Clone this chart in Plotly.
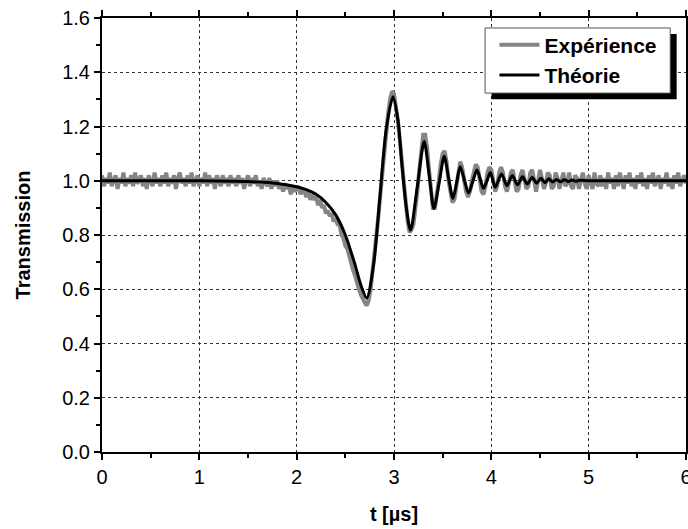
import numpy as np
import plotly.graph_objects as go

exp_step = 0.02
exp_y = [
    1.02, 0.98, 1.01, 0.99, 1.03, 0.98, 1.00, 1.02, 0.97, 1.01,
    0.99, 1.03, 0.98, 1.01, 0.99, 1.02, 0.98, 1.03, 0.99, 1.00,
    1.02, 0.98, 1.01, 0.97, 1.02, 1.00, 0.98, 1.03, 0.99, 1.01,
    0.98, 1.02, 0.99, 1.03, 0.98, 1.01, 0.99, 1.02, 0.97, 1.01,
    1.03, 0.99, 1.01, 0.98, 1.02, 0.99, 1.03, 0.98, 1.00, 1.02,
    0.98, 1.01, 0.99, 1.03, 0.98, 1.02, 0.99, 1.01, 0.97, 1.02,
    1.00, 0.98, 1.02, 0.99, 1.01, 0.98, 1.02, 0.99, 1.01, 0.98,
    1.02, 0.99, 1.01, 0.97, 1.00, 1.02, 0.98, 1.01, 0.99, 1.02,
    0.98, 1.00, 0.97, 1.01, 0.99, 0.98, 1.01, 0.97, 1.00, 0.98,
    1.00, 0.97, 0.99, 0.96, 0.99, 0.97, 0.98, 0.95, 0.98, 0.96,
    0.97, 0.98, 0.95, 0.97, 0.96, 0.94, 0.96, 0.93, 0.95, 0.93,
    0.94, 0.91, 0.93, 0.90, 0.91, 0.88, 0.89, 0.87, 0.88, 0.85,
    0.86, 0.84, 0.84, 0.80, 0.79, 0.76, 0.75, 0.72, 0.70, 0.67,
    0.65, 0.62, 0.60, 0.58, 0.56, 0.55, 0.54, 0.56, 0.60, 0.66,
    0.73, 0.80, 0.87, 0.95, 1.03, 1.10, 1.18, 1.25, 1.30, 1.33,
    1.32, 1.28, 1.22, 1.15, 1.07, 0.98, 0.91, 0.85, 0.81, 0.82,
    0.84, 0.89, 0.96, 1.04, 1.11, 1.17, 1.17, 1.12, 1.04, 0.97,
    0.90, 0.90, 0.94, 1.00, 1.06, 1.10, 1.11, 1.07, 1.00, 0.95,
    0.92, 0.93, 0.98, 1.04, 1.07, 1.05, 1.00, 0.96, 0.94, 0.96,
    1.00, 1.04, 1.06, 1.05, 1.00, 0.96, 0.95, 0.98, 1.03, 1.05,
    1.04, 0.99, 0.96, 0.98, 1.03, 1.05, 1.03, 0.98, 0.96, 0.99,
    1.03, 1.04, 1.00, 0.96, 0.97, 1.02, 1.04, 1.01, 0.97, 0.98,
    1.03, 1.04, 0.99, 0.96, 1.00, 1.04, 1.01, 0.97, 0.99, 1.03,
    1.02, 0.97, 0.98, 1.03, 1.01, 0.97, 1.00, 1.03, 0.98, 0.99,
    1.03, 0.98, 0.97, 1.02, 1.01, 0.97, 1.00, 1.03, 0.99, 0.97,
    1.02, 1.00, 0.97, 1.03, 0.99, 0.98, 1.02, 0.98, 1.01, 0.97,
    1.03, 0.99, 1.01, 0.97, 1.02, 0.98, 1.03, 1.00, 0.97, 1.02,
    0.99, 1.03, 0.98, 1.01, 0.97, 1.02, 0.99, 1.03, 0.98, 1.01,
    0.97, 1.02, 0.99, 1.03, 0.98, 1.00, 1.02, 0.97, 1.01, 0.99,
    1.03, 0.98, 1.01, 0.97, 1.02, 0.99, 1.03, 0.98, 1.00, 1.02,
    0.99,
]
exp_t = [round(i * exp_step, 2) for i in range(len(exp_y))]

# Theory curve (points read at extrema and crossings)
th_t = [0.0, 0.5, 1.0, 1.5, 1.8, 2.0, 2.1, 2.2, 2.3, 2.4, 2.5, 2.6, 2.66, 2.72,
        2.79, 2.855, 2.92, 2.99, 3.04, 3.08, 3.125, 3.17, 3.24, 3.31, 3.36, 3.41,
        3.465, 3.516, 3.56, 3.606, 3.643, 3.68, 3.723, 3.766, 3.81, 3.852, 3.886,
        3.92, 3.955, 3.99, 4.04, 4.105, 4.16, 4.215, 4.27, 4.32, 4.37, 4.42, 4.465,
        4.51, 4.55, 4.59, 4.63, 4.67, 4.71, 4.75, 4.79, 4.83, 4.87, 4.91, 5.0, 5.5, 6.0]
th_y = [1.0, 1.0, 1.0, 0.997, 0.99, 0.978, 0.967, 0.95, 0.92, 0.875, 0.80, 0.69, 0.615, 0.568,
        0.69, 0.94, 1.19, 1.31, 1.225, 1.065, 0.905, 0.818, 0.98, 1.145, 1.025, 0.898,
        0.995, 1.09, 1.012, 0.935, 0.993, 1.052, 1.003, 0.955, 0.998, 1.04, 1.006,
        0.972, 1.0, 1.03, 0.976, 1.025, 0.982, 1.019, 0.985, 1.015, 0.988, 1.012, 0.991,
        1.009, 0.993, 1.007, 0.995, 1.005, 0.996, 1.004, 0.997, 1.003, 0.998, 1.002, 1.0, 1.0, 1.0]

x_ticks = [0, 1, 2, 3, 4, 5, 6]
y_ticks = [0.0, 0.2, 0.4, 0.6, 0.8, 1.0, 1.2, 1.4, 1.6]
y_tick_text = ["0.0", "0.2", "0.4", "0.6", "0.8", "1.0", "1.2", "1.4", "1.6"]

font_family = "Liberation Sans, Arial, sans-serif"

fig = go.Figure()
fig.add_trace(go.Scatter(x=exp_t, y=exp_y, mode="lines", name="<b>Expérience</b>",
                         legendgroup="a",
                         line=dict(color="#858585", width=4)))
fig.add_trace(go.Scatter(x=th_t, y=th_y, mode="lines", name="<b>Théorie</b>",
                         legendgroup="b",
                         line=dict(color="black", width=3, shape="spline", smoothing=0.8)))

axis_common = dict(
    showline=True, linecolor="black", linewidth=2, mirror="allticks",
    ticks="outside", ticklen=6, tickwidth=1.5, tickcolor="black",
    showgrid=True, gridcolor="#333333", griddash="dot", gridwidth=1,
    zeroline=False, automargin=False, ticklabeloverflow="allow",
    tickfont=dict(family=font_family, size=20, color="black"),
)

fig.update_xaxes(range=[0, 6], tickvals=x_ticks,
                 minor=dict(dtick=0.5, ticks="outside", ticklen=4, tickcolor="black", showgrid=False),
                 title=dict(text="<b>t [µs]</b>", font=dict(family=font_family, size=20, color="black"),
                            standoff=20),
                 **axis_common)
fig.update_yaxes(range=[0, 1.6], tickvals=y_ticks, ticktext=y_tick_text,
                 minor=dict(dtick=0.1, ticks="outside", ticklen=4, tickcolor="black", showgrid=False),
                 title=dict(text="<b>Transmission</b>", font=dict(family=font_family, size=20, color="black"),
                            standoff=26),
                 **axis_common)

# Legend box with drop shadow
fig.add_shape(type="rect", xref="paper", yref="paper", x0=0.667, x1=0.984, y0=0.813, y1=0.963,
              fillcolor="black", line=dict(width=0), layer="above")
fig.add_shape(type="rect", xref="paper", yref="paper", x0=0.656, x1=0.973, y0=0.827, y1=0.977,
              fillcolor="white", line=dict(color="#555555", width=1), layer="above")

fig.update_layout(
    width=688, height=529,
    margin=dict(l=102, r=2, t=18, b=77),
    plot_bgcolor="white", paper_bgcolor="white",
    font=dict(family=font_family, color="black"),
    legend=dict(x=0.672, y=0.985, xanchor="left", yanchor="top",
                bgcolor="rgba(0,0,0,0)", borderwidth=0,
                font=dict(family=font_family, size=21, color="black"),
                tracegroupgap=0, itemwidth=40),
    showlegend=True,
)

fig.write_html("out.html", config={"displayModeBar": False},
               post_script="document.body.style.margin='0px';")
